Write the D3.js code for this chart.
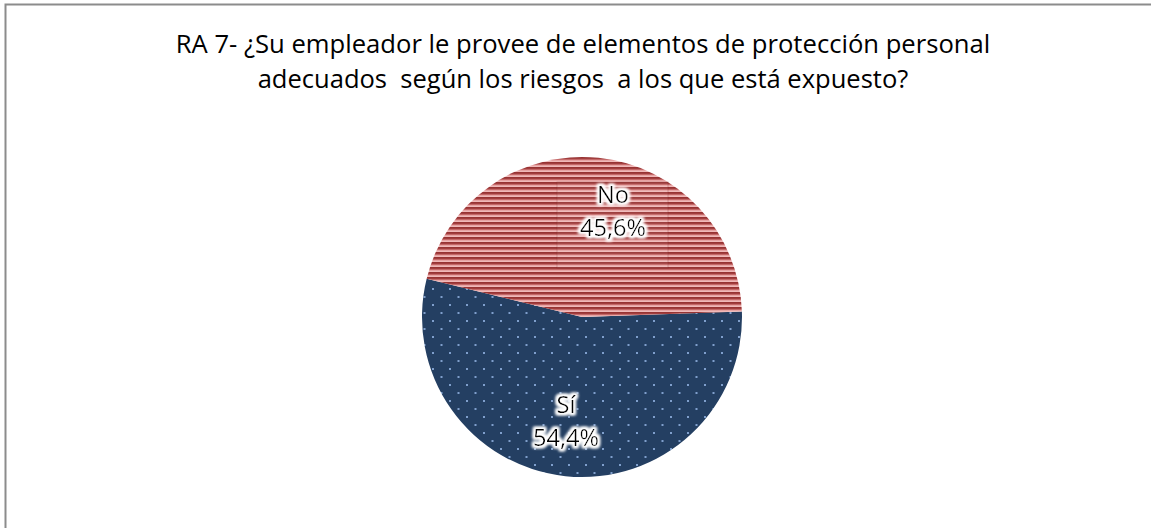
<!DOCTYPE html>
<html><head><meta charset="utf-8">
<script src="https://cdn.jsdelivr.net/npm/d3@7"></script>
<style>html,body{margin:0;padding:0;background:#fff;}svg{display:block;}</style>
</head><body>
<svg id="c" width="1151" height="528"></svg>
<script>
const categories = ["Sí", "No"];
const values = [54.4, 45.6];
const valueLabels = ["54,4%", "45,6%"];
const titleLines = ["RA 7- ¿Su empleador le provee de elementos de protección personal", "adecuados  según los riesgos  a los que está expuesto?"];

const svg = d3.select("#c");
const W = 1151, H = 528;
const font = "'Open Sans', Lato, sans-serif";

const defs = svg.append("defs");
const stripes = defs.append("pattern").attr("id","stripes").attr("patternUnits","userSpaceOnUse").attr("width",8).attr("height",5);
[["#973333",0],["#a23e3e",1],["#c46868",2],["#e7a4a4",3],["#f0b9b9",4]].forEach(([c,y])=>stripes.append("rect").attr("x",0).attr("y",y).attr("width",8).attr("height",1).attr("fill",c));
const dots = defs.append("pattern").attr("id","dots").attr("patternUnits","userSpaceOnUse").attr("width",17).attr("height",16);
dots.append("rect").attr("width",17).attr("height",16).attr("fill","#243f62");
dots.append("rect").attr("x",3).attr("y",3).attr("width",2).attr("height",2).attr("fill","#7f9fcc");
dots.append("rect").attr("x",11.5).attr("y",11).attr("width",2).attr("height",2).attr("fill","#7f9fcc");
const glow = defs.append("filter").attr("id","glow").attr("x","-20%").attr("y","-40%").attr("width","140%").attr("height","180%");
glow.append("feMorphology").attr("in","SourceAlpha").attr("operator","dilate").attr("radius",2).attr("result","d");
glow.append("feGaussianBlur").attr("in","d").attr("stdDeviation",1.5).attr("result","b");
glow.append("feFlood").attr("flood-color","#fff");
glow.append("feComposite").attr("in2","b").attr("operator","in").attr("result","w");
const m = glow.append("feMerge");
m.append("feMergeNode").attr("in","w");
m.append("feMergeNode").attr("in","w");
m.append("feMergeNode").attr("in","SourceGraphic");

// frame
svg.append("rect").attr("x",5.5).attr("y",4.5).attr("width",W+10).attr("height",H+10).attr("fill","#fff").attr("stroke","#8c8c8c").attr("stroke-width",2);

// title: fit each line to the reference width
const titleWidths = [815, 651];
const tt = svg.append("g").selectAll("text").data(titleLines).join("text")
  .attr("x",583).attr("y",(d,i)=>53+i*35).attr("text-anchor","middle")
  .attr("font-family",font).attr("font-size",22).attr("fill","#000")
  .style("white-space","pre").text(d=>d);
tt.each(function(d,i){ const w=this.getComputedTextLength(); d3.select(this).attr("font-size", 22*titleWidths[i]/w); });

const cx = 582, cy = 317, r = 160;
const startAngle = 88 * Math.PI/180;
const pie = d3.pie().sort(null).value(d=>d).startAngle(startAngle).endAngle(startAngle + 2*Math.PI);
const arcs = pie(values);
const arc = d3.arc().innerRadius(0).outerRadius(r);
const fills = ["url(#dots)","url(#stripes)"];
const g = svg.append("g").attr("transform",`translate(${cx},${cy})`);
g.selectAll("path").data(arcs).join("path").attr("d",arc).attr("fill",(d,i)=>fills[i]);

const labelPos = [[-16, 96],[31, -114]];
g.append("rect").attr("x",-25).attr("y",-135).attr("width",111).attr("height",86).attr("fill","rgba(255,255,255,0.06)").attr("stroke","rgba(120,30,30,0.25)");
const lg = g.selectAll("g.lab").data(arcs).join("g").attr("class","lab").attr("filter","url(#glow)");
const t1 = lg.append("text").attr("x",(d,i)=>labelPos[i][0]).attr("y",(d,i)=>labelPos[i][1]).attr("text-anchor","middle")
  .attr("font-family",font).attr("font-size",20).attr("fill","#000").text((d,i)=>categories[i]);
const t2 = lg.append("text").attr("x",(d,i)=>labelPos[i][0]).attr("y",(d,i)=>labelPos[i][1]+33).attr("text-anchor","middle")
  .attr("font-family",font).attr("font-size",20).attr("fill","#000").text((d,i)=>valueLabels[i]);
const w0 = t2.node().getComputedTextLength();
const fs = 20*66/w0;
t1.attr("font-size",fs); t2.attr("font-size",fs);
</script>
</body></html>
